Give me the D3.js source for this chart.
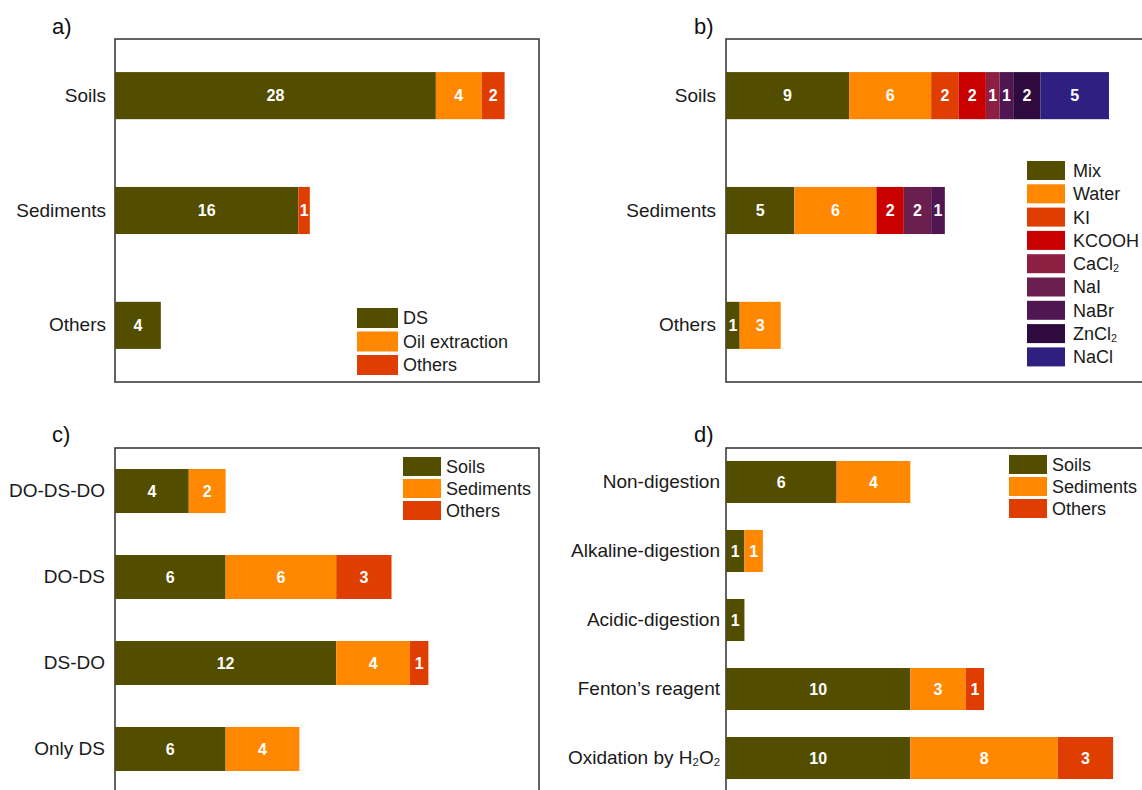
<!DOCTYPE html>
<html>
<head>
<meta charset="utf-8">
<script src="https://cdn.jsdelivr.net/npm/d3@7"></script>
<style>
  body { margin: 0; background: #fff; }
  svg { display: block; font-family: "Liberation Sans", Arial, sans-serif; }
</style>
</head>
<body>
<svg id="chart" width="1142" height="790"></svg>
<script>
// ---- a) extraction method by sample type ----
const sourcesA = ["Soils", "Sediments", "Others"];
const methodsA = ["DS", "Oil extraction", "Others"];
const dsA    = [28, 16, 4];
const oilA   = [4, 0, 0];
const otherA = [2, 1, 0];

// ---- b) density solution by sample type ----
const sourcesB   = ["Soils", "Sediments", "Others"];
const solutionsB = ["Mix", "Water", "KI", "KCOOH", "CaCl₂", "NaI", "NaBr", "ZnCl₂", "NaCl"];
const mixB   = [9, 5, 1];
const waterB = [6, 6, 3];
const kiB    = [2, 0, 0];
const kcoohB = [2, 2, 0];
const cacl2B = [1, 0, 0];
const naiB   = [0, 2, 0];
const nabrB  = [1, 1, 0];
const zncl2B = [2, 0, 0];
const naclB  = [5, 0, 0];

// ---- c) order of separation steps ----
const sequencesC = ["DO-DS-DO", "DO-DS", "DS-DO", "Only DS"];
const matricesC  = ["Soils", "Sediments", "Others"];
const soilsC     = [4, 6, 12, 6];
const sedimentsC = [2, 6, 4, 4];
const othersC    = [0, 3, 1, 0];

// ---- d) organic matter removal ----
const treatmentsD = ["Non-digestion", "Alkaline-digestion", "Acidic-digestion", "Fenton’s reagent", "Oxidation by H₂O₂"];
const matricesD   = ["Soils", "Sediments", "Others"];
const soilsD      = [6, 1, 1, 10, 10];
const sedimentsD  = [4, 1, 0, 3, 8];
const othersD     = [0, 0, 0, 1, 3];

// Palettes
const threeColors = ["#534d00", "#ff8800", "#e03e00"];
const solutionColors = ["#534d00", "#ff8800", "#e03e00", "#c80000", "#8c1f42",
                        "#6b1f4f", "#4f1651", "#2e0a3e", "#2e1f80"];

const svg = d3.select("#chart");

// Write a label, rendering "₂" as a small lowered 2
function richText(sel, str, size) {
  const parts = str.split("₂");
  parts.forEach((p, i) => {
    if (p.length) {
      const t = sel.append("tspan").text(p);
      if (i > 0) t.attr("dy", -size * 0.12);
    }
    if (i < parts.length - 1) {
      sel.append("tspan").text("2")
        .attr("font-size", size * 0.6)
        .attr("dy", size * 0.12);
    }
  });
}

function drawPanel(cfg) {
  const g = svg.append("g");
  const rows = cfg.categories.map((c, i) => {
    const r = { cat: c };
    cfg.keys.forEach((k, j) => { r[k] = cfg.values[j][i]; });
    return r;
  });
  const stacked = d3.stack().keys(cfg.keys)(rows);

  const x = d3.scaleLinear().domain([0, cfg.xMax]).range([cfg.left, cfg.left + cfg.width]);
  const y = d3.scaleBand().domain(cfg.categories)
    .range([cfg.top, cfg.top + cfg.height])
    .paddingInner(cfg.padInner).paddingOuter(cfg.padOuter);
  const color = d3.scaleOrdinal().domain(cfg.keys).range(cfg.colors);

  // frame
  g.append("rect")
    .attr("x", cfg.left).attr("y", cfg.top)
    .attr("width", cfg.width).attr("height", cfg.height)
    .attr("fill", "none").attr("stroke", "#3c3c3c").attr("stroke-width", 1.6);

  // panel letter
  g.append("text").attr("x", cfg.titleX).attr("y", cfg.titleY)
    .attr("font-size", 22).attr("fill", "#111").text(cfg.title);

  // category labels
  const axis = d3.axisLeft(y).tickSize(0).tickPadding(cfg.labelPad);
  const ax = g.append("g").attr("transform", `translate(${cfg.left},0)`).call(axis);
  ax.select(".domain").remove();
  ax.selectAll(".tick text").each(function(d) {
    const t = d3.select(this);
    t.text(null).attr("font-size", 19).attr("fill", "#1a1a1a")
      .attr("font-family", "'Liberation Sans', Arial, sans-serif");
    richText(t, d, 19);
  });

  // stacked segments
  stacked.forEach(layer => {
    const key = layer.key;
    layer.forEach((seg, i) => {
      const v = seg[1] - seg[0];
      if (v <= 0) return;
      const cat = cfg.categories[i];
      g.append("rect")
        .attr("x", x(seg[0])).attr("y", y(cat))
        .attr("width", x(seg[1]) - x(seg[0])).attr("height", y.bandwidth())
        .attr("fill", color(key));
      g.append("text")
        .attr("x", (x(seg[0]) + x(seg[1])) / 2)
        .attr("y", y(cat) + y.bandwidth() / 2)
        .attr("dy", "0.36em")
        .attr("text-anchor", "middle")
        .attr("font-size", 16).attr("font-weight", "bold").attr("fill", "#fff")
        .text(v);
    });
  });

  // legend
  const L = cfg.legend;
  cfg.keys.forEach((k, i) => {
    const yy = L.y + i * L.step;
    g.append("rect").attr("x", L.x).attr("y", yy)
      .attr("width", L.sw).attr("height", L.sh).attr("fill", color(k));
    const t = g.append("text").attr("x", L.x + L.sw + L.gap).attr("y", yy + L.sh / 2)
      .attr("dy", "0.36em").attr("font-size", 18).attr("fill", "#1a1a1a");
    richText(t, k, 18);
  });
}

drawPanel({
  title: "a)", titleX: 52, titleY: 34, labelPad: 9,
  categories: sourcesA, keys: methodsA, values: [dsA, oilA, otherA], colors: threeColors,
  left: 115, top: 39, width: 424, height: 343, xMax: 37, padInner: 0.59, padOuter: 0.288,
  legend: { x: 357, y: 308, sw: 41, sh: 20, step: 23.5, gap: 5 }
});

drawPanel({
  title: "b)", titleX: 694, titleY: 34, labelPad: 10,
  categories: sourcesB, keys: solutionsB,
  values: [mixB, waterB, kiB, kcoohB, cacl2B, naiB, nabrB, zncl2B, naclB],
  colors: solutionColors,
  left: 726, top: 39, width: 424, height: 343, xMax: 31, padInner: 0.59, padOuter: 0.288,
  legend: { x: 1027, y: 161, sw: 38, sh: 19, step: 23.3, gap: 8 }
});

drawPanel({
  title: "c)", titleX: 52, titleY: 442, labelPad: 10,
  categories: sequencesC, keys: matricesC, values: [soilsC, sedimentsC, othersC], colors: threeColors,
  left: 115, top: 448, width: 424, height: 344, xMax: 23, padInner: 0.488, padOuter: 0.244,
  legend: { x: 403, y: 457, sw: 38, sh: 19, step: 22, gap: 5 }
});

drawPanel({
  title: "d)", titleX: 694, titleY: 442, labelPad: 6,
  categories: treatmentsD, keys: matricesD, values: [soilsD, sedimentsD, othersD], colors: threeColors,
  left: 726, top: 448, width: 424, height: 344, xMax: 23, padInner: 0.391, padOuter: 0.188,
  legend: { x: 1009, y: 455, sw: 38, sh: 19, step: 22, gap: 5 }
});
</script>
</body>
</html>
